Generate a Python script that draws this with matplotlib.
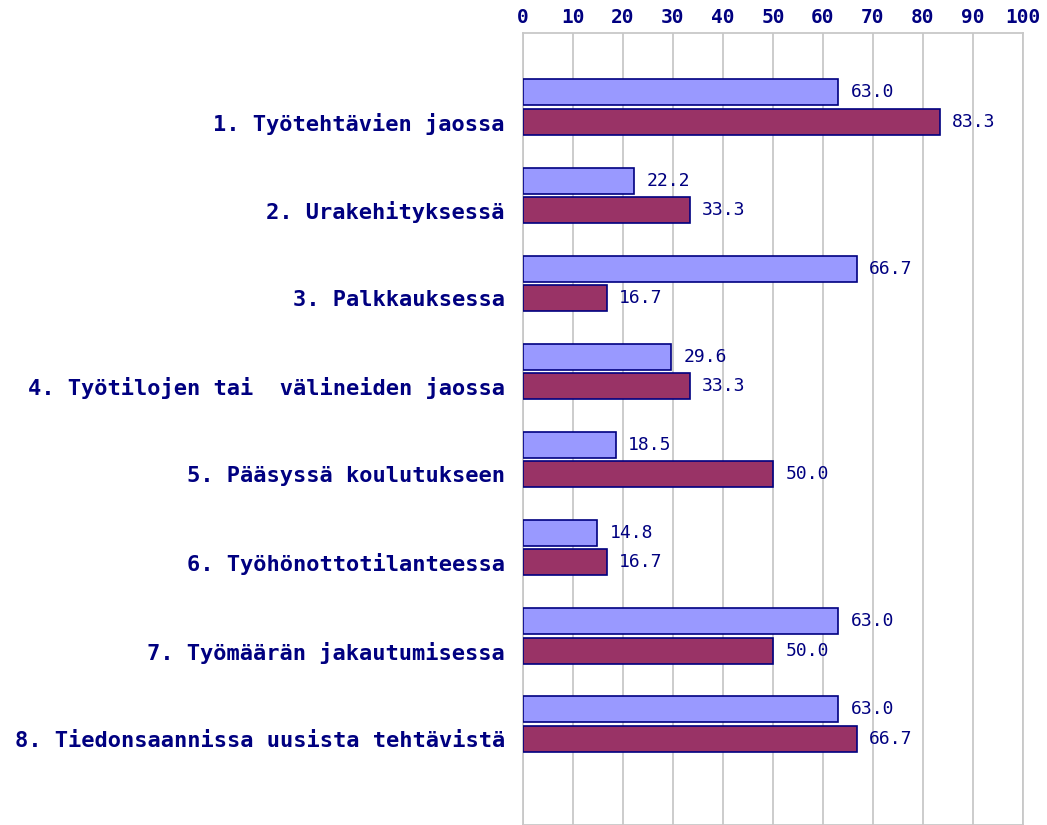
import numpy as np
import matplotlib
matplotlib.use("Agg")
import matplotlib.pyplot as plt

kategorije = [
    "1. Työtehtävien jaossa",
    "2. Urakehityksessä",
    "3. Palkkauksessa",
    "4. Työtilojen tai  välineiden jaossa",
    "5. Pääsyssä koulutukseen",
    "6. Työhönottotilanteessa",
    "7. Työmäärän jakautumisessa",
    "8. Tiedonsaannissa uusista tehtävistä",
]
sarja_a = [63.0, 22.2, 66.7, 29.6, 18.5, 14.8, 63.0, 63.0]
sarja_b = [83.3, 33.3, 16.7, 33.3, 50.0, 16.7, 50.0, 66.7]
x_ticks = list(range(0, 101, 10))

NAVY = "#000080"
FONT = "DejaVu Sans Mono"

fig = plt.figure(figsize=(10.47, 8.25), dpi=100)
ax = fig.add_axes([523 / 1047, 0.0, 500 / 1047, 1 - 33 / 825])

y = np.arange(len(kategorije))
h = 0.295
off = 0.335

ax.barh(y - off, sarja_a, height=h, color="#9999FF", edgecolor=NAVY, linewidth=1.2, zorder=3)
ax.barh(y, sarja_b, height=h, color="#993366", edgecolor=NAVY, linewidth=1.2, zorder=3)

for yy, v in zip(y - off, sarja_a):
    ax.annotate(f"{v:.1f}", (v, yy), xytext=(9, 0), textcoords="offset points",
                va="center", ha="left", color=NAVY, fontsize=13, family=FONT)
for yy, v in zip(y, sarja_b):
    ax.annotate(f"{v:.1f}", (v, yy), xytext=(9, 0), textcoords="offset points",
                va="center", ha="left", color=NAVY, fontsize=13, family=FONT)

ax.set_xlim(0, 100)
ax.set_ylim(7.98, -1.01)
ax.set_xticks(x_ticks)
ax.set_xticklabels([str(t) for t in x_ticks], family=FONT, fontweight="bold",
                   fontsize=14, color=NAVY)
ax.xaxis.tick_top()
ax.set_yticks(y)
ax.set_yticklabels(kategorije, family=FONT, fontweight="bold", fontsize=15.8, color=NAVY)
ax.tick_params(axis="both", length=0)
ax.tick_params(axis="y", pad=13)
ax.tick_params(axis="x", pad=4)
ax.grid(axis="x", color="#C8C8C8", linewidth=1.3, zorder=0)
for s in ax.spines.values():
    s.set_color("#C8C8C8")
    s.set_linewidth(1.3)

fig.savefig("out.png", dpi=100)
